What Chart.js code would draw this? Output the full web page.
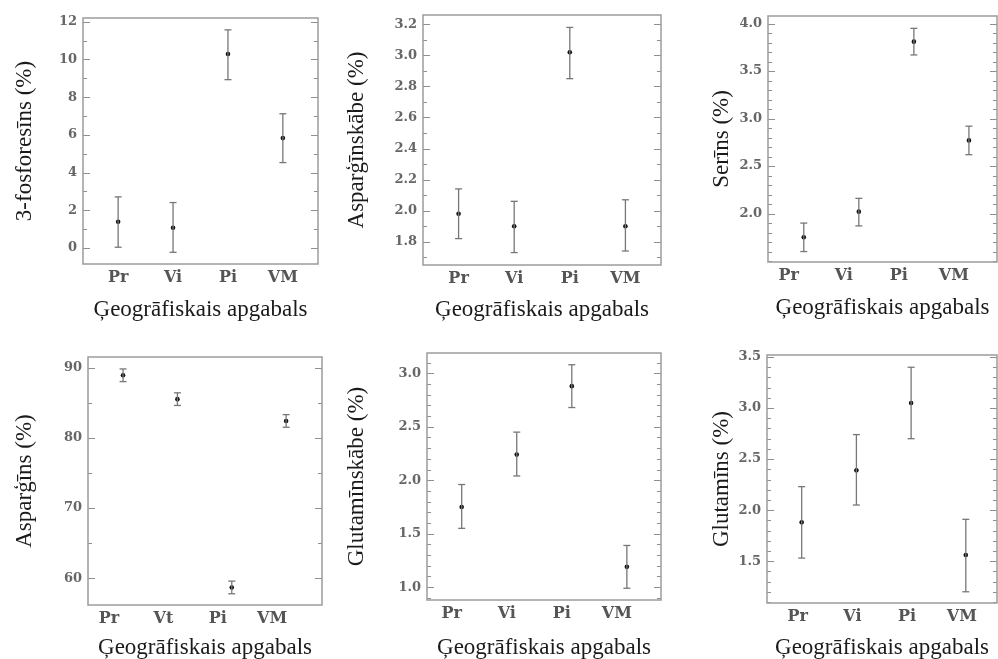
<!DOCTYPE html>
<html>
<head>
<meta charset="utf-8">
<script src="https://cdn.jsdelivr.net/npm/chart.js@4.4.1/dist/chart.umd.min.js"></script>
<style>
  html, body { margin: 0; padding: 0; background: #fff; width: 998px; height: 659px; overflow: hidden; }
  canvas { position: absolute; }
</style>
</head>
<body>
<canvas id="c1" width="330" height="330" style="left:0px;top:0px"></canvas>
<canvas id="c2" width="340" height="330" style="left:330px;top:0px"></canvas>
<canvas id="c3" width="320" height="330" style="left:690px;top:0px"></canvas>
<canvas id="c4" width="330" height="340" style="left:0px;top:330px"></canvas>
<canvas id="c5" width="340" height="340" style="left:330px;top:330px"></canvas>
<canvas id="c6" width="320" height="340" style="left:690px;top:330px"></canvas>
<script>
'use strict';

// Categories (geographic regions)
var regions = ['Pr', 'Vi', 'Pi', 'VM'];
var regionsAlt = ['Pr', 'Vt', 'Pi', 'VM'];
var xTitle = 'Ģeogrāfiskais apgabals';

// 3-fosforesīns
var fosfoMean = [1.39, 1.07, 10.29, 5.83];
var fosfoLow = [0.04, -0.23, 8.93, 4.53];
var fosfoHigh = [2.71, 2.41, 11.57, 7.12];
var fosfoTicks = [0, 2, 4, 6, 8, 10, 12];

// Asparģīnskābe
var aspAcidMean = [1.98, 1.90, 3.02, 1.90];
var aspAcidLow = [1.82, 1.73, 2.85, 1.74];
var aspAcidHigh = [2.14, 2.06, 3.18, 2.07];
var aspAcidTicks = [1.8, 2.0, 2.2, 2.4, 2.6, 2.8, 3.0, 3.2];

// Serīns
var serMean = [1.75, 2.02, 3.81, 2.77];
var serLow = [1.60, 1.87, 3.67, 2.62];
var serHigh = [1.90, 2.16, 3.95, 2.92];
var serTicks = [2.0, 2.5, 3.0, 3.5, 4.0];

// Asparģīns
var aspMean = [88.9, 85.5, 58.7, 82.4];
var aspLow = [88.0, 84.6, 57.8, 81.5];
var aspHigh = [89.8, 86.4, 59.6, 83.3];
var aspTicks = [60, 70, 80, 90];

// Glutamīnskābe
var gluAcidMean = [1.75, 2.24, 2.88, 1.19];
var gluAcidLow = [1.55, 2.04, 2.68, 0.99];
var gluAcidHigh = [1.96, 2.45, 3.08, 1.39];
var gluAcidTicks = [1.0, 1.5, 2.0, 2.5, 3.0];

// Glutamīns
var gluMean = [1.88, 2.39, 3.05, 1.56];
var gluLow = [1.53, 2.05, 2.70, 1.20];
var gluHigh = [2.23, 2.74, 3.40, 1.91];
var gluTicks = [1.5, 2.0, 2.5, 3.0, 3.5];

// box frame + inward tick marks on both sides
var frameTicks = {
  id: 'frameTicks',
  beforeDatasetsDraw: function(chart) {
    var ctx = chart.ctx, a = chart.chartArea, y = chart.scales.y;
    ctx.save();
    ctx.strokeStyle = '#8f8f8f';
    ctx.lineWidth = 1;
    y.ticks.forEach(function(t) {
      var py = Math.round(y.getPixelForValue(t.value)) + 0.5;
      var len = t.label !== '' ? 7 : 4;
      ctx.beginPath();
      ctx.moveTo(a.left, py); ctx.lineTo(a.left + len, py);
      ctx.moveTo(a.right, py); ctx.lineTo(a.right - len, py);
      ctx.stroke();
    });
    ctx.lineWidth = 1.5;
    ctx.strokeStyle = '#9c9c9c';
    ctx.strokeRect(a.left, a.top, a.right - a.left, a.bottom - a.top);
    ctx.restore();
  }
};

function makeChart(id, p, g) {
  var datasets = p.cats.map(function(c, i) {
    return {
      data: [{ x: i + 1, y: p.low[i] }, { x: i + 1, y: p.high[i] }],
      showLine: true,
      borderColor: '#777',
      borderWidth: 1.3,
      pointStyle: 'line',
      pointRadius: 3.5,
      pointBorderColor: '#777',
      pointBorderWidth: 1.3
    };
  });
  datasets.push({
    data: p.mean.map(function(v, i) { return { x: i + 1, y: v }; }),
    pointStyle: 'circle',
    pointRadius: 2.3,
    pointBackgroundColor: '#111',
    pointBorderColor: '#111',
    pointBorderWidth: 0
  });

  return new Chart(document.getElementById(id), {
    type: 'scatter',
    data: { datasets: datasets },
    plugins: [frameTicks],
    options: {
      responsive: false,
      animation: false,
      devicePixelRatio: 1,
      layout: { padding: { top: g.padTop, right: g.padRight, left: 0, bottom: 0 } },
      plugins: { legend: { display: false }, tooltip: { enabled: false } },
      scales: {
        x: {
          type: 'linear',
          min: p.xMin, max: p.xMax,
          grid: { display: false, drawTicks: false },
          border: { display: false },
          afterBuildTicks: function(s) {
            s.ticks = p.cats.map(function(c, i) { return { value: i + 1 }; });
          },
          afterFit: function(s) { s.height = g.xH; },
          ticks: {
            autoSkip: false,
            maxRotation: 0,
            padding: 4,
            labelOffset: g.shift,
            color: '#555',
            font: { family: 'DejaVu Serif', size: 16, weight: 'bold' },
            callback: function(v) { return p.cats[v - 1] || ''; }
          },
          title: {
            display: true, text: xTitle, color: '#1a1a1a',
            font: { family: 'Liberation Serif', size: 23 },
            padding: { top: 0, bottom: g.xTP }
          }
        },
        y: {
          min: p.yMin, max: p.yMax,
          grid: { display: false, drawTicks: false },
          border: { display: false },
          afterBuildTicks: function(s) {
            var out = [];
            var k0 = Math.ceil(s.min / p.minor - 1e-6), k1 = Math.floor(s.max / p.minor + 1e-6);
            for (var k = k0; k <= k1; k++) out.push({ value: Math.round(k * p.minor * 1000) / 1000 });
            s.ticks = out;
          },
          afterFit: function(s) { s.width = g.yW; },
          ticks: {
            autoSkip: false,
            padding: 6,
            color: '#666',
            font: { family: 'DejaVu Serif', size: 13, weight: 'bold' },
            callback: function(v) {
              var hit = p.ticks.some(function(t) { return Math.abs(t - v) < 1e-6; });
              return hit ? v.toFixed(p.dec) : '';
            }
          },
          title: {
            display: true, text: p.title, color: '#1a1a1a',
            font: { family: 'Liberation Serif', size: 23 },
            padding: { top: g.yTP, bottom: 0 }
          }
        }
      }
    }
  });
}

makeChart('c1',
  { cats: regions, mean: fosfoMean, low: fosfoLow, high: fosfoHigh, ticks: fosfoTicks, title: '3-fosforesīns (%)',
    yMin: -0.85, yMax: 12.2, minor: 1, dec: 0, xMin: 0.36, xMax: 4.64 },
  { padTop: 18, padRight: 12, yW: 83, xH: 66, yTP: 11, xTP: 6, shift: 0 });

makeChart('c2',
  { cats: regions, mean: aspAcidMean, low: aspAcidLow, high: aspAcidHigh, ticks: aspAcidTicks, title: 'Asparģīnskābe (%)',
    yMin: 1.65, yMax: 3.26, minor: 0.1, dec: 1, xMin: 0.36, xMax: 4.64 },
  { padTop: 15, padRight: 9, yW: 93, xH: 65, yTP: 13, xTP: 6, shift: 0 });

makeChart('c3',
  { cats: regions, mean: serMean, low: serLow, high: serHigh, ticks: serTicks, title: 'Serīns (%)',
    yMin: 1.49, yMax: 4.08, minor: 0.1, dec: 1, xMin: 0.35, xMax: 4.51 },
  { padTop: 16, padRight: 13, yW: 78, xH: 68, yTP: 18, xTP: 8, shift: -15 });

makeChart('c4',
  { cats: regionsAlt, mean: aspMean, low: aspLow, high: aspHigh, ticks: aspTicks, title: 'Asparģīns (%)',
    yMin: 56.2, yMax: 91.5, minor: 5, dec: 0, xMin: 0.355, xMax: 4.66 },
  { padTop: 27, padRight: 8, yW: 88, xH: 65, yTP: 11, xTP: 8, shift: -14 });

makeChart('c5',
  { cats: regions, mean: gluAcidMean, low: gluAcidLow, high: gluAcidHigh, ticks: gluAcidTicks, title: 'Glutamīnskābe (%)',
    yMin: 0.88, yMax: 3.19, minor: 0.1, dec: 1, xMin: 0.37, xMax: 4.62 },
  { padTop: 23, padRight: 9, yW: 97, xH: 70, yTP: 13, xTP: 8, shift: -10 });

makeChart('c6',
  { cats: regions, mean: gluMean, low: gluLow, high: gluHigh, ticks: gluTicks, title: 'Glutamīns (%)',
    yMin: 1.09, yMax: 3.52, minor: 0.1, dec: 1, xMin: 0.366, xMax: 4.57 },
  { padTop: 25, padRight: 13, yW: 77, xH: 67, yTP: 18, xTP: 8, shift: -4 });
</script>
</body>
</html>
